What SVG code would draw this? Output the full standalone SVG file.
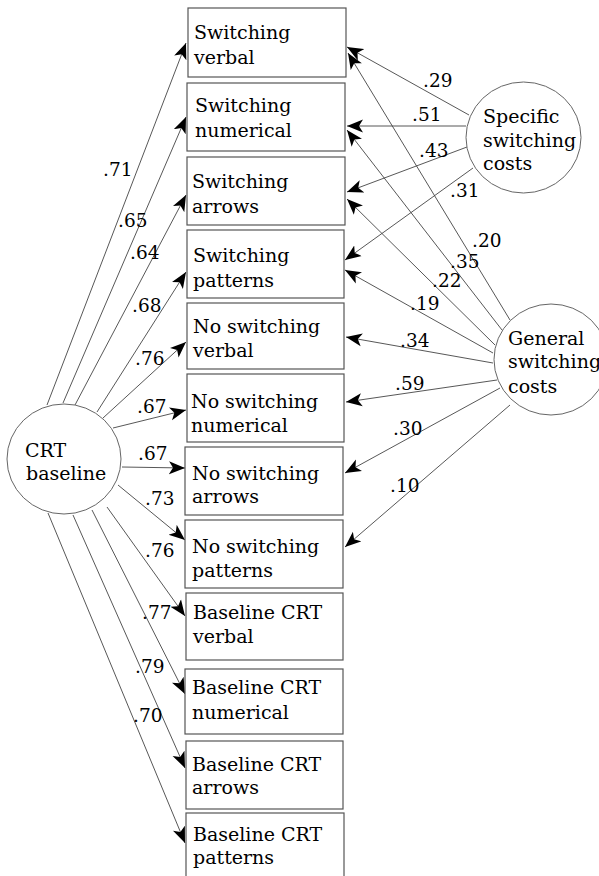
<svg xmlns="http://www.w3.org/2000/svg" width="599" height="876" viewBox="0 0 599 876">
<style>
.box{fill:#fff;stroke:#555;stroke-width:1.2}
.lat{fill:#fff;stroke:#666;stroke-width:1}
.t{font-family:'DejaVu Serif',serif;font-size:19px;fill:#000}
.l{font-family:'DejaVu Serif',serif;font-size:18.5px;fill:#000}
.c{fill:none;stroke:#444;stroke-width:0.9;marker-end:url(#ah)}
</style>
<defs>
<marker id="ah" markerUnits="userSpaceOnUse" markerWidth="18" markerHeight="14" viewBox="0 -7 18 14" refX="16" refY="0" orient="auto">
<path d="M0,-6.5 L16,0 L0,6.5 L4,0 Z" fill="#000"/>
</marker>
</defs>
<rect width="599" height="876" fill="#fff"/>
<g id="connectors">
<line class="c" x1="47" y1="405" x2="186" y2="43"/>
<line class="c" x1="63" y1="403" x2="186" y2="117"/>
<line class="c" x1="75" y1="405" x2="186" y2="195"/>
<line class="c" x1="97" y1="412" x2="186" y2="272"/>
<line class="c" x1="103" y1="418" x2="186" y2="342"/>
<line class="c" x1="113" y1="428" x2="186" y2="410"/>
<line class="c" x1="122" y1="467" x2="185" y2="468"/>
<line class="c" x1="118" y1="485" x2="185" y2="540"/>
<line class="c" x1="107" y1="507" x2="185" y2="616"/>
<line class="c" x1="92" y1="510" x2="185" y2="694"/>
<line class="c" x1="73" y1="515" x2="185" y2="768"/>
<line class="c" x1="48" y1="513" x2="185" y2="843"/>
<line class="c" x1="469" y1="115" x2="347" y2="47"/>
<line class="c" x1="466" y1="126" x2="347" y2="126"/>
<line class="c" x1="467" y1="147" x2="347" y2="192"/>
<line class="c" x1="473" y1="168" x2="345" y2="260"/>
<line class="c" x1="510" y1="320" x2="348" y2="53"/>
<line class="c" x1="502" y1="330" x2="347" y2="130"/>
<line class="c" x1="495" y1="345" x2="347" y2="199"/>
<line class="c" x1="493" y1="353" x2="345" y2="270"/>
<line class="c" x1="493" y1="363" x2="346" y2="337"/>
<line class="c" x1="497" y1="380" x2="346" y2="402"/>
<line class="c" x1="500" y1="388" x2="345" y2="473"/>
<line class="c" x1="510" y1="405" x2="345" y2="547"/>
</g>
<g id="labels">
<text class="l" x="103" y="176">.71</text>
<text class="l" x="118" y="227">.65</text>
<text class="l" x="130" y="259">.64</text>
<text class="l" x="132" y="312">.68</text>
<text class="l" x="135" y="365">.76</text>
<text class="l" x="137" y="413">.67</text>
<text class="l" x="138" y="460">.67</text>
<text class="l" x="145" y="505">.73</text>
<text class="l" x="145" y="557">.76</text>
<text class="l" x="142" y="619">.77</text>
<text class="l" x="135" y="673">.79</text>
<text class="l" x="133" y="722">.70</text>
<text class="l" x="423" y="87">.29</text>
<text class="l" x="412" y="121">.51</text>
<text class="l" x="419" y="157">.43</text>
<text class="l" x="450" y="197">.31</text>
<text class="l" x="472" y="247">.20</text>
<text class="l" x="450" y="268">.35</text>
<text class="l" x="432" y="287">.22</text>
<text class="l" x="410" y="310">.19</text>
<text class="l" x="400" y="347">.34</text>
<text class="l" x="395" y="390">.59</text>
<text class="l" x="393" y="435">.30</text>
<text class="l" x="390" y="492">.10</text>
</g>
<g id="crt-baseline"><ellipse class="lat" cx="64" cy="459" rx="57" ry="55"/><text class="t" x="25" y="457">CRT</text><text class="t" x="26" y="480">baseline</text></g>
<g id="specific-switching-costs"><ellipse class="lat" cx="523.5" cy="137.5" rx="57.5" ry="55.5"/><text class="t" x="483" y="123">Specific</text><text class="t" x="483" y="147">switching</text><text class="t" x="483" y="170">costs</text></g>
<g id="general-switching-costs"><ellipse class="lat" cx="551" cy="359.5" rx="57" ry="55.5"/><text class="t" x="508" y="345">General</text><text class="t" x="508" y="368">switching</text><text class="t" x="508" y="393">costs</text></g>
<g id="sw-verbal"><rect class="box" x="188" y="8" width="158" height="69"/><text class="t" x="194" y="39">Switching</text><text class="t" x="194" y="64">verbal</text></g>
<g id="sw-numerical"><rect class="box" x="187" y="83" width="158" height="68"/><text class="t" x="195" y="112">Switching</text><text class="t" x="195" y="137">numerical</text></g>
<g id="sw-arrows"><rect class="box" x="187" y="157" width="158" height="68"/><text class="t" x="192" y="188">Switching</text><text class="t" x="192" y="213">arrows</text></g>
<g id="sw-patterns"><rect class="box" x="187" y="230" width="157" height="68"/><text class="t" x="193" y="262">Switching</text><text class="t" x="193" y="287">patterns</text></g>
<g id="nosw-verbal"><rect class="box" x="187" y="303" width="157" height="66"/><text class="t" x="193" y="333">No switching</text><text class="t" x="193" y="357">verbal</text></g>
<g id="nosw-numerical"><rect class="box" x="187" y="374" width="157" height="68"/><text class="t" x="191" y="408">No switching</text><text class="t" x="191" y="432">numerical</text></g>
<g id="nosw-arrows"><rect class="box" x="185" y="447" width="158" height="68"/><text class="t" x="192" y="480">No switching</text><text class="t" x="192" y="503">arrows</text></g>
<g id="nosw-patterns"><rect class="box" x="185" y="520" width="158" height="68"/><text class="t" x="192" y="553">No switching</text><text class="t" x="192" y="577">patterns</text></g>
<g id="base-verbal"><rect class="box" x="186" y="593" width="157" height="67"/><text class="t" x="193" y="619">Baseline CRT</text><text class="t" x="193" y="643">verbal</text></g>
<g id="base-numerical"><rect class="box" x="185" y="669" width="158" height="65"/><text class="t" x="192" y="694">Baseline CRT</text><text class="t" x="192" y="719">numerical</text></g>
<g id="base-arrows"><rect class="box" x="186" y="741" width="157" height="68"/><text class="t" x="192" y="771">Baseline CRT</text><text class="t" x="192" y="794">arrows</text></g>
<g id="base-patterns"><rect class="box" x="186" y="813" width="158" height="70"/><text class="t" x="193" y="841">Baseline CRT</text><text class="t" x="193" y="864">patterns</text></g>
</svg>
